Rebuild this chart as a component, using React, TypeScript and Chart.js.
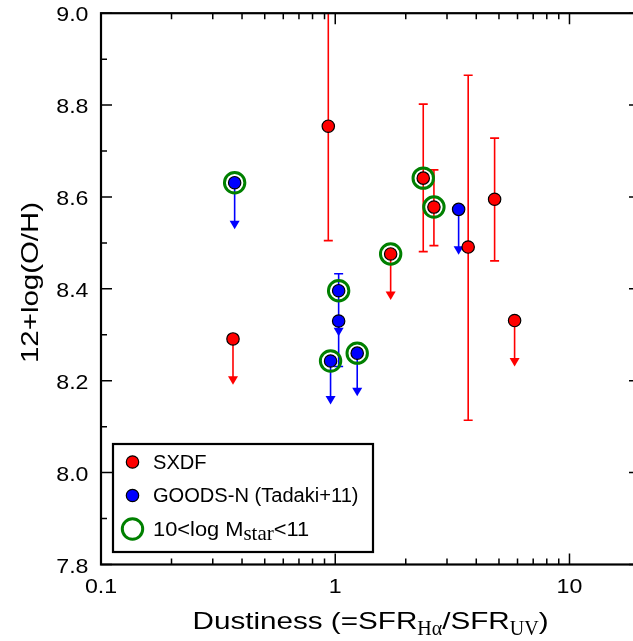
import { useEffect, useRef } from 'react';
import { Chart, registerables } from 'chart.js';

Chart.register(...registerables);

// ---------- axes ----------
const xMin = 0.1;
const xMax = 20;
const yMin = 7.8;
const yMax = 9.0;
const xMajorTicks = [0.1, 1, 10];
const xTickLabels = ['0.1', '1', '10'];
const xMinorTicks = [0.2, 0.3, 0.4, 0.5, 0.6, 0.7, 0.8, 0.9, 2, 3, 4, 5, 6, 7, 8, 9];
const yMajorTicks = [7.8, 8.0, 8.2, 8.4, 8.6, 8.8, 9.0];
const yTickLabels = ['7.8', '8.0', '8.2', '8.4', '8.6', '8.8', '9.0'];
const yMinorTicks = [7.9, 8.1, 8.3, 8.5, 8.7, 8.9];

// ---------- SXDF (red) ----------
const sxdfX = [0.366, 0.934, 1.724, 2.375, 2.638, 3.694, 4.79, 5.83];
const sxdfY = [8.291, 8.754, 8.476, 8.641, 8.578, 8.491, 8.595, 8.331];
const sxdfErrLow = [null, 8.505, null, 8.481, 8.494, 8.114, 8.461, null];
const sxdfErrHigh = [null, 9.1, null, 8.802, 8.659, 8.865, 8.728, null];
const sxdfLimitTip = [8.191, null, 8.376, null, null, null, null, 8.231];
const sxdfMassive = [false, false, true, true, true, false, false, false];

// ---------- GOODS-N (blue) ----------
const goodsX = [0.372, 1.034, 1.034, 0.955, 1.241, 3.363];
const goodsY = [8.631, 8.396, 8.33, 8.243, 8.26, 8.573];
const goodsErrLow = [null, 8.231, null, null, null, null];
const goodsErrHigh = [null, 8.433, null, null, null, null];
const goodsLimitTip = [8.53, null, 8.297, 8.148, 8.166, 8.474];
const goodsMassive = [true, true, false, true, true, false];

// ---------- legend ----------
const legendLabels = ['SXDF', 'GOODS-N (Tadaki+11)'];

const RED = '#ff0000';
const BLUE = '#0000ff';
const GREEN = '#008000';

const CANVAS_W = 660;
const CANVAS_H = 641;
const AREA_LEFT = 101;
const AREA_TOP = 13;
const AREA_RIGHT = 640;
const AREA_BOTTOM = 564.5;

const SANS = '"Liberation Sans", Arial, Helvetica, sans-serif';
const SERIF = '"Liberation Serif", "Times New Roman", serif';

type Part = { t: string; sub?: boolean };

function partsWidth(ctx: CanvasRenderingContext2D, parts: Part[], size: number, subSize: number, sx: number) {
  let w = 0;
  for (const p of parts) {
    if (p.sub) {
      ctx.font = `${subSize}px ${SERIF}`;
      w += ctx.measureText(p.t).width;
    } else {
      ctx.font = `${size}px ${SANS}`;
      w += ctx.measureText(p.t).width * sx;
    }
  }
  return w;
}

function drawParts(
  ctx: CanvasRenderingContext2D,
  parts: Part[],
  x: number,
  y: number,
  size: number,
  subSize: number,
  sx: number,
  subDy: number,
) {
  let cx = x;
  ctx.textAlign = 'left';
  ctx.textBaseline = 'alphabetic';
  for (const p of parts) {
    if (p.sub) {
      ctx.font = `${subSize}px ${SERIF}`;
      ctx.fillText(p.t, cx, y + subDy);
      cx += ctx.measureText(p.t).width;
    } else {
      ctx.font = `${size}px ${SANS}`;
      const w = ctx.measureText(p.t).width;
      ctx.save();
      ctx.translate(cx, y);
      ctx.scale(sx, 1);
      ctx.fillText(p.t, 0, 0);
      ctx.restore();
      cx += w * sx;
    }
  }
}

function drawStretched(
  ctx: CanvasRenderingContext2D,
  text: string,
  x: number,
  y: number,
  size: number,
  sx: number,
  align: CanvasTextAlign,
) {
  ctx.save();
  ctx.font = `${size}px ${SANS}`;
  ctx.textAlign = align;
  ctx.textBaseline = 'alphabetic';
  ctx.translate(x, y);
  ctx.scale(sx, 1);
  ctx.fillText(text, 0, 0);
  ctx.restore();
}

function drawErrors(
  chart: any,
  xs: number[],
  ys: number[],
  lows: (number | null)[],
  highs: (number | null)[],
  tips: (number | null)[],
  color: string,
) {
  const ctx: CanvasRenderingContext2D = chart.ctx;
  const xs_ = chart.scales.x;
  const ys_ = chart.scales.y;
  ctx.strokeStyle = color;
  ctx.fillStyle = color;
  ctx.lineWidth = 1.6;
  for (let i = 0; i < xs.length; i++) {
    const px = xs_.getPixelForValue(xs[i]);
    const py = ys_.getPixelForValue(ys[i]);
    const lo = lows[i];
    const hi = highs[i];
    if (lo !== null && hi !== null) {
      const pl = ys_.getPixelForValue(lo);
      const ph = ys_.getPixelForValue(hi);
      ctx.beginPath();
      ctx.moveTo(px, pl);
      ctx.lineTo(px, ph);
      ctx.moveTo(px - 4.5, pl);
      ctx.lineTo(px + 4.5, pl);
      ctx.moveTo(px - 4.5, ph);
      ctx.lineTo(px + 4.5, ph);
      ctx.stroke();
    }
    const tip = tips[i];
    if (tip !== null) {
      const pt = ys_.getPixelForValue(tip);
      ctx.beginPath();
      ctx.moveTo(px, py);
      ctx.lineTo(px, pt - 6);
      ctx.stroke();
      ctx.beginPath();
      ctx.moveTo(px - 5, pt - 8.5);
      ctx.lineTo(px + 5, pt - 8.5);
      ctx.lineTo(px, pt);
      ctx.closePath();
      ctx.fill();
    }
  }
}

const errorPlugin = {
  id: 'errorbars',
  beforeDatasetsDraw(chart: any) {
    const ctx: CanvasRenderingContext2D = chart.ctx;
    const a = chart.chartArea;
    ctx.save();
    ctx.beginPath();
    ctx.rect(a.left, a.top, a.right - a.left, a.bottom - a.top);
    ctx.clip();
    drawErrors(chart, sxdfX, sxdfY, sxdfErrLow, sxdfErrHigh, sxdfLimitTip, RED);
    drawErrors(chart, goodsX, goodsY, goodsErrLow, goodsErrHigh, goodsLimitTip, BLUE);
    ctx.restore();
  },
};

const framePlugin = {
  id: 'frame',
  afterDraw(chart: any) {
    const ctx: CanvasRenderingContext2D = chart.ctx;
    const a = chart.chartArea;
    const sx = chart.scales.x;
    const sy = chart.scales.y;
    ctx.save();
    ctx.strokeStyle = '#000';
    ctx.fillStyle = '#000';

    // ticks
    ctx.lineWidth = 1.5;
    ctx.beginPath();
    const xt = (v: number, len: number) => {
      const px = sx.getPixelForValue(v);
      ctx.moveTo(px, a.bottom);
      ctx.lineTo(px, a.bottom - len);
      ctx.moveTo(px, a.top);
      ctx.lineTo(px, a.top + len);
    };
    xMajorTicks.forEach((v) => xt(v, 11));
    xMinorTicks.forEach((v) => xt(v, 6));
    const yt = (v: number, len: number) => {
      const py = sy.getPixelForValue(v);
      ctx.moveTo(a.left, py);
      ctx.lineTo(a.left + len, py);
      ctx.moveTo(a.right, py);
      ctx.lineTo(a.right - len, py);
    };
    yMajorTicks.forEach((v) => yt(v, 11));
    yMinorTicks.forEach((v) => yt(v, 6));
    ctx.stroke();

    // frame
    ctx.lineWidth = 2.2;
    ctx.strokeRect(a.left, a.top, a.right - a.left, a.bottom - a.top);

    // tick labels
    yMajorTicks.forEach((v, i) => {
      const py = sy.getPixelForValue(v);
      drawStretched(ctx, yTickLabels[i], 88.5, py + 8, 20.5, 1.13, 'right');
    });
    xMajorTicks.forEach((v, i) => {
      const px = sx.getPixelForValue(v);
      drawStretched(ctx, xTickLabels[i], px, 593, 20.5, 1.13, 'center');
    });

    // x title
    const xParts: Part[] = [
      { t: 'Dustiness (=SFR' },
      { t: 'Hα', sub: true },
      { t: '/SFR' },
      { t: 'UV', sub: true },
      { t: ')' },
    ];
    const TS = 24;
    const SS = 20;
    const subW = partsWidth(ctx, xParts.filter((p) => p.sub), TS, SS, 1);
    const sansW = partsWidth(ctx, xParts.filter((p) => !p.sub), TS, SS, 1);
    const xsx = (356 - subW) / sansW;
    const totalW = partsWidth(ctx, xParts, TS, SS, xsx);
    const cx = (a.left + a.right) / 2;
    drawParts(ctx, xParts, cx - totalW / 2, 628.5, TS, SS, xsx, 6);

    // y title
    ctx.font = `${TS}px ${SANS}`;
    const yTitle = '12+log(O/H)';
    const yw = ctx.measureText(yTitle).width;
    const ysx = 161 / yw;
    ctx.save();
    ctx.translate(38, 282.5);
    ctx.rotate(-Math.PI / 2);
    drawStretched(ctx, yTitle, 0, 0, TS, ysx, 'center');
    ctx.restore();

    // legend
    const L = 113;
    const T = 444;
    const R = 373;
    const B = 552;
    ctx.fillStyle = '#fff';
    ctx.fillRect(L, T, R - L, B - T);
    ctx.lineWidth = 2.2;
    ctx.strokeStyle = '#000';
    ctx.strokeRect(L, T, R - L, B - T);
    const rows = [462, 495.5, 529];
    const mx = 132.5;
    const colors = [RED, BLUE];
    for (let i = 0; i < 2; i++) {
      ctx.beginPath();
      ctx.arc(mx, rows[i], 6.2, 0, Math.PI * 2);
      ctx.fillStyle = colors[i];
      ctx.fill();
      ctx.lineWidth = 1.2;
      ctx.strokeStyle = '#000';
      ctx.stroke();
      ctx.fillStyle = '#000';
      drawStretched(ctx, legendLabels[i], 153, rows[i] + 6.5, 19.5, 1.03, 'left');
    }
    ctx.beginPath();
    ctx.arc(mx, rows[2], 10.2, 0, Math.PI * 2);
    ctx.lineWidth = 3;
    ctx.strokeStyle = GREEN;
    ctx.stroke();
    ctx.fillStyle = '#000';
    drawParts(
      ctx,
      [{ t: '10<log M' }, { t: 'star', sub: true }, { t: '<11' }],
      153,
      rows[2] + 6.5,
      19.5,
      21,
      1.12,
      4,
    );
    ctx.restore();
  },
};

export default function App() {
  const ref = useRef<HTMLCanvasElement>(null);
  useEffect(() => {
    const canvas = ref.current;
    if (!canvas) return;
    const toPts = (xs: number[], ys: number[]) => xs.map((x, i) => ({ x, y: ys[i] }));
    const ringPts = [
      ...sxdfX.map((x, i) => ({ x, y: sxdfY[i], m: sxdfMassive[i] })),
      ...goodsX.map((x, i) => ({ x, y: goodsY[i], m: goodsMassive[i] })),
    ]
      .filter((p) => p.m)
      .map((p) => ({ x: p.x, y: p.y }));

    const chart = new Chart(canvas, {
      type: 'scatter',
      data: {
        datasets: [
          {
            label: 'SXDF',
            data: toPts(sxdfX, sxdfY),
            pointRadius: 6.2,
            pointBackgroundColor: RED,
            pointBorderColor: '#000',
            pointBorderWidth: 1.2,
          },
          {
            label: 'GOODS-N (Tadaki+11)',
            data: toPts(goodsX, goodsY),
            pointRadius: 6.2,
            pointBackgroundColor: BLUE,
            pointBorderColor: '#000',
            pointBorderWidth: 1.2,
          },
          {
            label: '10<log Mstar<11',
            data: ringPts,
            pointRadius: 10.2,
            pointBackgroundColor: 'rgba(0,0,0,0)',
            pointBorderColor: GREEN,
            pointBorderWidth: 3,
          },
        ],
      },
      options: {
        responsive: false,
        animation: false,
        events: [],
        layout: {
          padding: {
            left: AREA_LEFT,
            top: AREA_TOP,
            right: CANVAS_W - AREA_RIGHT,
            bottom: CANVAS_H - AREA_BOTTOM,
          },
        },
        scales: {
          x: { type: 'logarithmic', min: xMin, max: xMax, display: false },
          y: { type: 'linear', min: yMin, max: yMax, display: false },
        },
        plugins: {
          legend: { display: false },
          tooltip: { enabled: false },
        },
      },
      plugins: [errorPlugin, framePlugin],
    });
    return () => chart.destroy();
  }, []);

  return (
    <div
      style={{
        position: 'fixed',
        left: 0,
        top: 0,
        width: 633,
        height: 641,
        overflow: 'hidden',
        background: '#fff',
      }}
    >
      <canvas ref={ref} width={CANVAS_W} height={CANVAS_H} style={{ display: 'block' }} />
    </div>
  );
}
